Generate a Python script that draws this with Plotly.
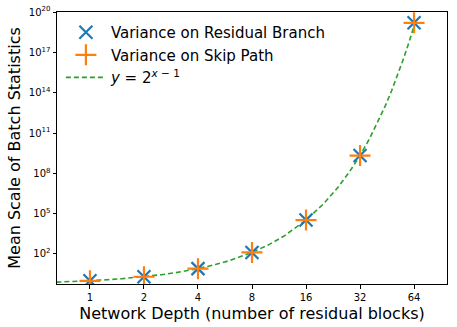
import numpy as np
import plotly.graph_objects as go

# ---------------------------------------------------------------------------
# Data
# ---------------------------------------------------------------------------
depths = [1, 2, 4, 8, 16, 32, 64]
var_residual = [1.0, 2.0, 8.0, 128.0, 3.3e4, 2.1e9, 1.6e19]
var_skip = [1.0, 2.0, 8.0, 128.0, 3.3e4, 2.1e9, 1.6e19]

# reference curve y = 2^(x-1), sampled along the depth axis
curve_x = [0.65, 0.8, 1, 1.25, 1.5, 2, 2.5, 3, 4, 5, 6, 8, 10, 12, 16,
           20, 24, 28, 32, 36, 40, 44, 48, 52, 56, 60, 64]
curve_y = [2.0 ** (x - 1) for x in curve_x]

y_tick_exps = [2, 5, 8, 11, 14, 17, 20]

BLUE = "#1f77b4"
ORANGE = "#ff7f0e"
GREEN = "#2ca02c"
FONT = "DejaVu Sans, sans-serif"

fig = go.Figure()

# curve first so the markers sit on top of it
fig.add_trace(go.Scatter(
    x=curve_x, y=curve_y,
    mode="lines",
    name="<i>y</i> = 2<sup><i>x</i> − 1</sup>",
    line=dict(color=GREEN, width=1.6, dash="5px,3px"),
    legendrank=3,
))
fig.add_trace(go.Scatter(
    x=depths, y=var_residual,
    mode="markers",
    name="Variance on Residual Branch",
    marker=dict(symbol="x-thin", size=13, line=dict(color=BLUE, width=2.2)),
    legendrank=1,
))
fig.add_trace(go.Scatter(
    x=depths, y=var_skip,
    mode="markers",
    name="Variance on Skip Path",
    marker=dict(symbol="cross-thin", size=15, line=dict(color=ORANGE, width=2.2)),
    legendrank=2,
))

fig.update_layout(
    width=457, height=327,
    margin=dict(l=57, r=10, t=12, b=43),
    paper_bgcolor="white",
    plot_bgcolor="white",
    font=dict(family=FONT, color="black"),
    showlegend=True,
    legend=dict(
        x=0.01, y=0.985, xanchor="left", yanchor="top",
        bgcolor="rgba(0,0,0,0)",
        font=dict(size=15, family=FONT),
        traceorder="normal",
        itemwidth=40,
    ),
)

fig.update_xaxes(
    type="log",
    range=[np.log10(2 ** -0.61), np.log10(2 ** 6.61)],
    tickvals=depths,
    ticktext=[str(d) for d in depths],
    tickfont=dict(size=10),
    ticks="outside", ticklen=3.5, tickcolor="black",
    showgrid=False, zeroline=False, automargin=False,
    showline=True, linecolor="black", linewidth=1, mirror=True,
    title=dict(text="Network Depth (number of residual blocks)",
               font=dict(size=16), standoff=6),
)
fig.update_yaxes(
    type="log",
    range=[-0.24, 20.01],
    tickvals=[10.0 ** e for e in y_tick_exps],
    ticktext=[f"10<sup>{e}</sup>" for e in y_tick_exps],
    tickfont=dict(size=10),
    ticks="outside", ticklen=3.5, tickcolor="black",
    showgrid=False, zeroline=False, automargin=False,
    showline=True, linecolor="black", linewidth=1, mirror=True,
    title=dict(text="Mean Scale of Batch Statistics",
               font=dict(size=16), standoff=4),
)

# drop the default page margin so the figure sits at the window's corner
fig.write_html(
    "out.html",
    config={"displayModeBar": False},
    post_script="document.body.style.margin='0';",
)
